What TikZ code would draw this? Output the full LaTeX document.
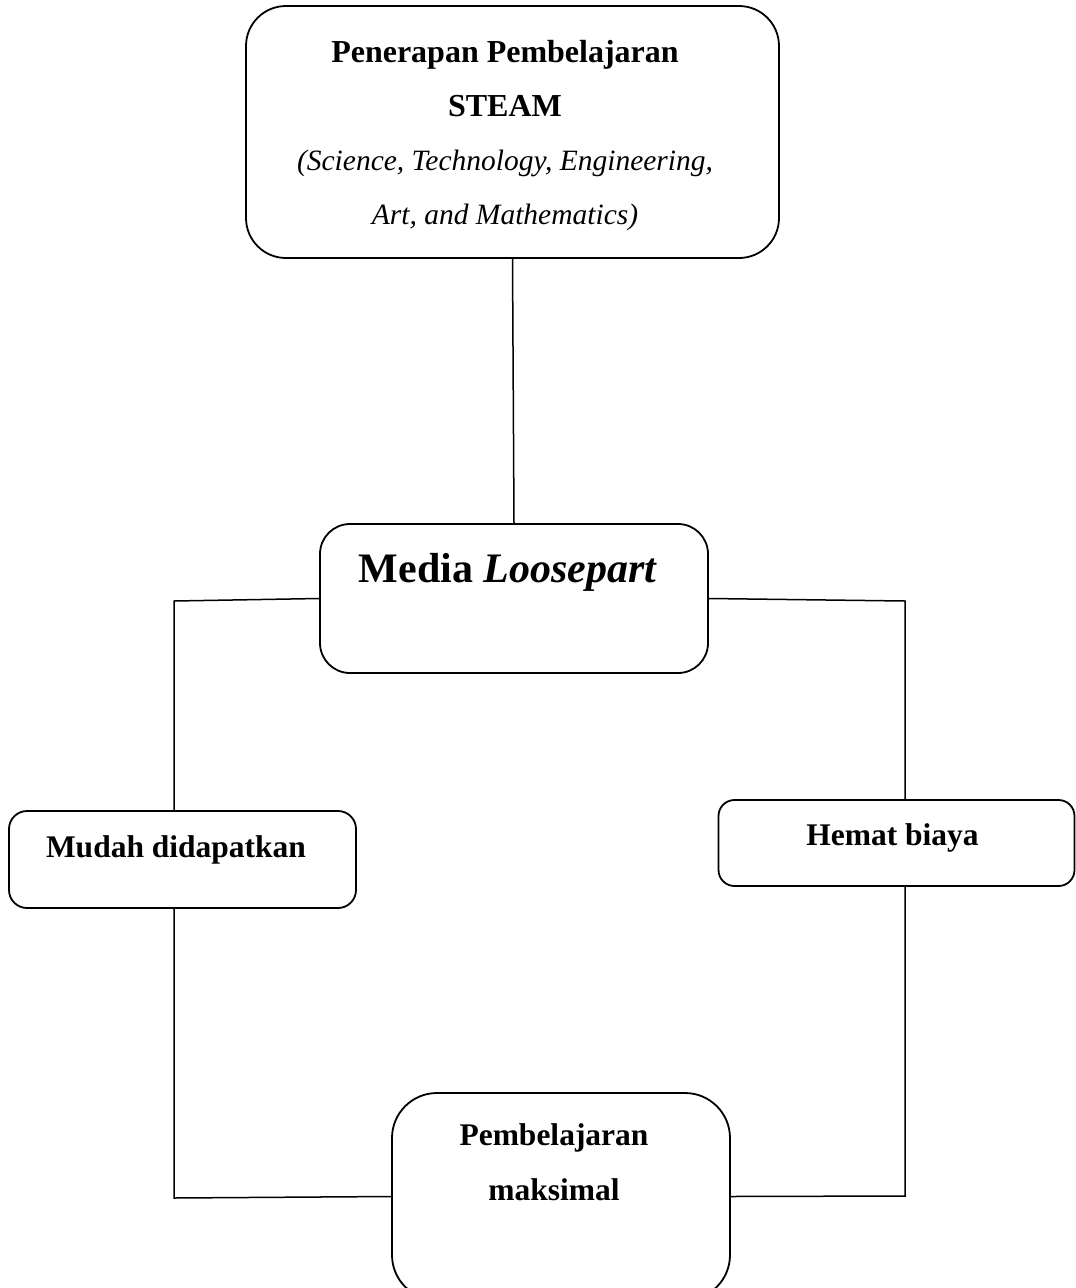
\documentclass[tikz,border=0pt]{standalone}
\usepackage{fontspec}
\setmainfont{Liberation Serif}
\begin{document}
\begin{tikzpicture}[x=1pt,y=-1pt,
  box/.style={draw, line width=1.8pt, rounded corners=#1, inner sep=0pt},
  conn/.style={line width=1.5pt},
  txt/.style={inner sep=0pt, align=center}]
\useasboundingbox (0,0) rectangle (1076,1288);
\fill[white] (0,0) rectangle (1076,1288);
\clip (0,0) rectangle (1076,1288);
% boxes
\node[box=40pt, minimum width=533pt, minimum height=252pt] (top) at (512.5,132) {};
\node[box=30pt, minimum width=388pt, minimum height=149pt] (media) at (514,598.5) {};
\node[box=18pt, minimum width=347pt, minimum height=97pt] (mudah) at (182.5,859.5) {};
\node[box=16pt, minimum width=356pt, minimum height=86pt] (hemat) at (896.5,843) {};
\node[box=45pt, minimum width=338pt, minimum height=207pt] (pemb) at (561,1196.5) {};
% texts
\node[txt, font=\fontsize{32}{54}\selectfont] (toptext) at (505,136)
  {\textbf{Penerapan Pembelajaran}\\ \textbf{STEAM}\\
   {\fontsize{29.5}{54}\selectfont\itshape (Science, Technology, Engineering,}\\
   {\fontsize{29.5}{54}\selectfont\itshape Art, and Mathematics)}};
\node[txt, anchor=base, font=\fontsize{42}{50}\selectfont] (mediatext) at (508,582)
  {\textbf{Media \textit{Loosepart}}};
\node[txt, anchor=base, font=\fontsize{31.5}{40}\selectfont] (mudahtext) at (176,857) {\textbf{Mudah didapatkan}};
\node[txt, anchor=base, font=\fontsize{31.5}{40}\selectfont] (hemattext) at (892.5,845) {\textbf{Hemat biaya}};
\node[txt, font=\fontsize{31.5}{55}\selectfont] (pembtext) at (554,1162)
  {\textbf{Pembelajaran}\\ \textbf{maksimal}};
% connectors
\coordinate (lt) at (174,601);
\coordinate (rt) at (905,601);
\coordinate (lb) at (174,1198);
\coordinate (rb) at (905,1196);
\draw[conn] (top.south) -- (media.north);
\draw[conn] (media.west) -- (lt) -- (lt |- mudah.north);
\draw[conn] (media.east) -- (rt) -- (rt |- hemat.north);
\draw[conn] (lb |- mudah.south) -- (lb) -- (pemb.west);
\draw[conn] (rb |- hemat.south) -- (rb) -- (pemb.east);
\end{tikzpicture}
\end{document}
